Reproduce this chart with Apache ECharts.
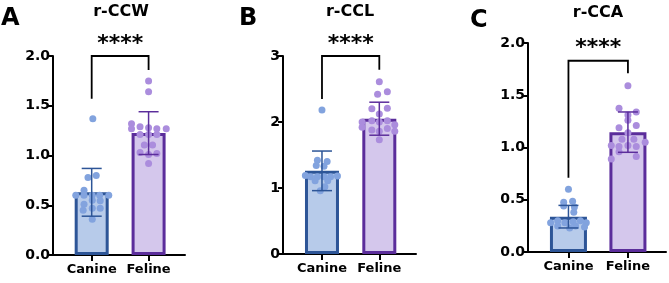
<!DOCTYPE html>
<html>
<head>
<meta charset="utf-8">
<script src="https://cdn.jsdelivr.net/npm/echarts@6/dist/echarts.min.js"></script>
<style>
  html, body { margin: 0; padding: 0; background: #fff; }
  #chart { width: 669px; height: 283px; }
</style>
</head>
<body>
<div id="chart"></div>
<script>
// data
const categories = ['Canine', 'Feline'];
const panelLetters = ['A', 'B', 'C'];
const panelTitles = ['r-CCW', 'r-CCL', 'r-CCA'];
const sigLabel = '****';

// group means and SD (bar height, error bar)
const meanCCW = [0.63, 1.225];
const sdCCW = [0.24, 0.215];
const meanCCL = [1.26, 2.05];
const sdCCL = [0.30, 0.25];
const meanCCA = [0.338, 1.147];
const sdCCA = [0.108, 0.193];

// individual points (values) and their horizontal jitter in category units
const canineCCW = [1.37, 0.80, 0.78, 0.65, 0.60, 0.60, 0.60, 0.60, 0.60, 0.55, 0.545, 0.51, 0.47, 0.47, 0.45, 0.36];
const canineCCWJitter = [0.02, 0.08, -0.065, -0.135, -0.28, -0.135, 0.01, 0.14, 0.30, 0.01, 0.15, -0.135, 0.01, 0.15, -0.15, 0.01];
const felineCCW = [1.75, 1.64, 1.32, 1.27, 1.29, 1.28, 1.27, 1.27, 1.21, 1.21, 1.21, 1.105, 1.105, 1.03, 1.01, 1.02, 0.92];
const felineCCWJitter = [0, 0, -0.30, -0.30, -0.15, 0, 0.145, 0.31, -0.15, 0, 0.145, -0.075, 0.07, -0.15, 0, 0.145, 0];

const canineCCL = [2.18, 1.42, 1.40, 1.34, 1.33, 1.19, 1.17, 1.17, 1.17, 1.17, 1.18, 1.11, 1.11, 1.02, 0.96];
const canineCCLJitter = [0, -0.08, 0.09, -0.10, 0.035, -0.29, -0.20, -0.08, 0.035, 0.15, 0.27, -0.12, 0.10, 0.05, -0.03];
const felineCCL = [2.61, 2.42, 2.46, 2.20, 2.21, 2.12, 2.00, 2.02, 2.00, 2.02, 1.96, 1.92, 1.88, 1.86, 1.90, 1.86, 1.73];
const felineCCLJitter = [0, -0.03, 0.14, -0.13, 0.14, 0, -0.30, -0.13, 0, 0.14, 0.27, -0.30, -0.13, 0, 0.14, 0.27, 0];

const canineCCA = [0.60, 0.475, 0.485, 0.44, 0.43, 0.38, 0.28, 0.30, 0.28, 0.29, 0.30, 0.28, 0.25, 0.25, 0.24, 0.23];
const canineCCAJitter = [0, -0.08, 0.07, -0.08, 0.10, 0.09, -0.30, -0.18, -0.06, 0.08, 0.20, 0.30, -0.18, 0.12, 0.27, 0.02];
const felineCCA = [1.59, 1.375, 1.34, 1.31, 1.26, 1.19, 1.21, 1.14, 1.08, 1.08, 1.02, 1.01, 1.02, 1.01, 1.05, 0.96, 0.89, 0.915];
const felineCCAJitter = [0, -0.15, 0.14, 0, 0, -0.15, 0.14, 0, -0.10, 0.10, -0.28, -0.15, 0, 0.14, 0.29, -0.15, -0.28, 0.14];

// significance bracket: [left leg bottom, top, right leg bottom]
const bracketCCW = [1.57, 2.0, 1.86];
const bracketCCL = [2.35, 3.0, 2.79];
const bracketCCA = [0.71, 1.83, 1.71];

// y axis ranges
const yMax = [2, 3, 2];
const yStep = [0.5, 1, 0.5];

const panels = [
  { mean: meanCCW, sd: sdCCW, pts: [[canineCCW, canineCCWJitter], [felineCCW, felineCCWJitter]], bracket: bracketCCW },
  { mean: meanCCL, sd: sdCCL, pts: [[canineCCL, canineCCLJitter], [felineCCL, felineCCLJitter]], bracket: bracketCCL },
  { mean: meanCCA, sd: sdCCA, pts: [[canineCCA, canineCCAJitter], [felineCCA, felineCCAJitter]], bracket: bracketCCA }
];

const FONT = 'DejaVu Sans';
const fills = ['#B7CBEA', '#D4C7EC'];
const edges = ['#2D5597', '#5B2D9B'];
const dots = ['#82A3DE', '#AB8DDD'];

// layout (pixels)
const grids = [
  { left: 53, top: 56, width: 132, height: 199 },
  { left: 283, top: 56, width: 133, height: 198 },
  { left: 528, top: 43, width: 138, height: 209 }
];
const barW = [34, 34, 37];
const titleX = [121, 350, 598];
const titleY = [12, 12, 13];
const letterX = [1, 239, 470];
const letterY = [7, 7, 9];

const chart = echarts.init(document.getElementById('chart'));

const xAxes = [], yAxes = [], series = [], graphics = [];
panels.forEach((p, i) => {
  xAxes.push({
    type: 'value', gridIndex: i, min: 0.32, max: 2.64,
    splitLine: { show: false },
    axisLine: { show: true, onZero: false, lineStyle: { color: '#000', width: 2 } },
    axisTick: { show: true, customValues: [1, 2], length: 6, lineStyle: { color: '#000', width: 2 } },
    axisLabel: {
      customValues: [1, 2], margin: 8,
      formatter: v => categories[Math.round(v) - 1],
      color: '#000', fontFamily: FONT, fontWeight: 'bold', fontSize: 13
    }
  });
  yAxes.push({
    type: 'value', gridIndex: i, min: 0, max: yMax[i], interval: yStep[i],
    splitLine: { show: false },
    axisLine: { show: true, lineStyle: { color: '#000', width: 2 } },
    axisTick: { show: true, length: 5, lineStyle: { color: '#000', width: 2 } },
    axisLabel: {
      margin: 3, color: '#000', fontFamily: FONT, fontWeight: 'bold', fontSize: 14,
      formatter: v => (yStep[i] < 1 ? v.toFixed(1) : String(v))
    }
  });

  series.push({
    type: 'bar', xAxisIndex: i, yAxisIndex: i, barWidth: barW[i], z: 2,
    data: p.mean.map((m, k) => ({
      value: [k + 1, m],
      itemStyle: { color: fills[k], borderColor: edges[k], borderWidth: 3 }
    }))
  });

  p.pts.forEach(([vals, jit], k) => {
    series.push({
      type: 'scatter', xAxisIndex: i, yAxisIndex: i, z: 3,
      symbolSize: 7,
      itemStyle: { color: dots[k], opacity: 1 },
      data: vals.map((v, n) => [k + 1 + jit[n], v])
    });
  });

  series.push({
    type: 'custom', xAxisIndex: i, yAxisIndex: i, z: 4, clip: false,
    data: p.mean.map((m, k) => [k + 1, m, p.sd[k]]),
    renderItem: (params, api) => {
      const x = api.value(0), m = api.value(1), s = api.value(2);
      const top = api.coord([x, m + s]);
      const bot = api.coord([x, m - s]);
      const st = { stroke: edges[params.dataIndex], lineWidth: 1.5 };
      const hw = 10;
      return {
        type: 'group',
        children: [
          { type: 'line', shape: { x1: top[0], y1: top[1], x2: bot[0], y2: bot[1] }, style: st },
          { type: 'line', shape: { x1: top[0] - hw, y1: top[1], x2: top[0] + hw, y2: top[1] }, style: st },
          { type: 'line', shape: { x1: bot[0] - hw, y1: bot[1], x2: bot[0] + hw, y2: bot[1] }, style: st }
        ]
      };
    }
  });

  series.push({
    type: 'custom', xAxisIndex: i, yAxisIndex: i, z: 5, clip: false,
    data: [p.bracket],
    renderItem: (params, api) => {
      const a = api.coord([1, api.value(0)]);
      const b = api.coord([1, api.value(1)]);
      const c = api.coord([2, api.value(1)]);
      const d = api.coord([2, api.value(2)]);
      return {
        type: 'group',
        children: [
          { type: 'polyline', shape: { points: [a, b, c, d] }, style: { stroke: '#000', lineWidth: 1.8, fill: null } },
          { type: 'text', x: (b[0] + c[0]) / 2, y: b[1] - 12,
            style: { text: sigLabel, align: 'center', verticalAlign: 'middle', fill: '#000',
                     font: 'bold 22px "' + FONT + '"' } }
        ]
      };
    }
  });

  graphics.push({
    type: 'text', left: letterX[i], top: letterY[i],
    style: { text: panelLetters[i], fill: '#000', font: 'bold 24px "' + FONT + '"' }
  });
  graphics.push({
    type: 'text', x: titleX[i], y: titleY[i],
    style: { text: panelTitles[i], fill: '#000', align: 'center', verticalAlign: 'middle',
             font: 'bold 16px "' + FONT + '"' }
  });
});

chart.setOption({
  animation: false,
  backgroundColor: '#fff',
  grid: grids,
  xAxis: xAxes,
  yAxis: yAxes,
  series: series,
  graphic: graphics
});
</script>
</body>
</html>
